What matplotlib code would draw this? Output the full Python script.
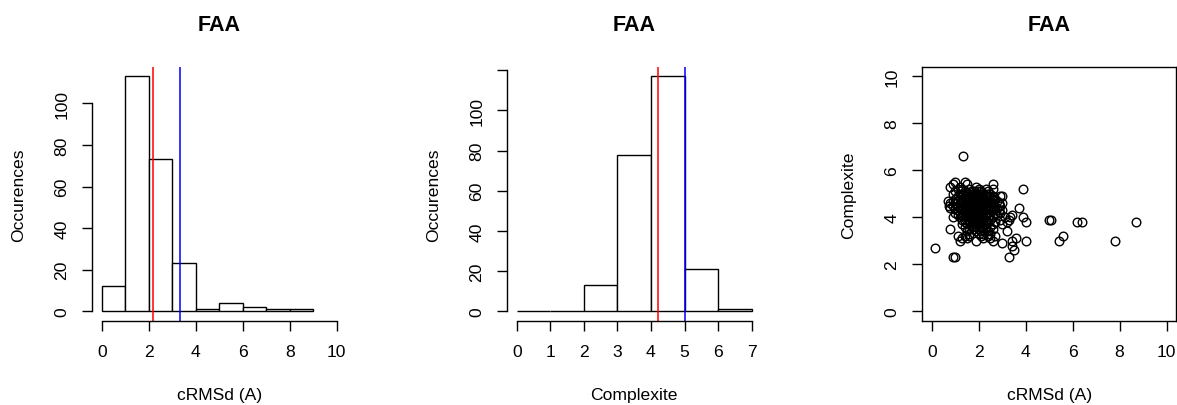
import matplotlib
matplotlib.use("Agg")
import matplotlib.pyplot as plt

plt.rcParams['font.family'] = ['Liberation Sans', 'DejaVu Sans']

# histogram of cRMSd
rmsd_edges = [0, 1, 2, 3, 4, 5, 6, 7, 8, 9]
rmsd_counts = [12, 113, 73, 23, 1, 4, 2, 1, 1]
rmsd_red = 2.17
rmsd_blue = 3.33

# histogram of complexite
cplx_edges = [0, 1, 2, 3, 4, 5, 6, 7]
cplx_counts = [0, 0, 13, 78, 117, 21, 1]
cplx_red = 4.22
cplx_blue = 5.0

# scatter: complexite levels and the cRMSd values observed at each level
scatter_levels = [6.6, 5.5, 5.4, 5.3, 5.2, 5.1, 5.0, 4.9, 4.8, 4.7, 4.6, 4.5, 4.4,
                  4.3, 4.2, 4.1, 4.0, 3.9, 3.8, 3.7, 3.6, 3.5, 3.4, 3.3, 3.2,
                  3.1, 3.0, 2.9, 2.8, 2.7, 2.6, 2.3]
scatter_rows = [
    [1.35],
    [1.0, 1.4],
    [0.9, 1.5, 2.6],
    [0.8, 1.2, 1.9],
    [1.1, 1.3, 1.6, 2.0, 2.3, 2.6, 3.9],
    [1.0, 1.4, 1.7, 1.8, 2.1, 2.4, 1.25, 1.95],
    [0.9, 1.2, 1.5, 1.6, 1.9, 2.0, 2.2, 2.5, 1.35, 1.75, 2.35],
    [1.1, 1.3, 1.4, 1.7, 1.8, 2.1, 2.3, 2.6, 2.9, 3.0, 1.55, 1.95, 2.45],
    [1.0, 1.2, 1.5, 1.6, 1.9, 2.0, 2.2, 2.4, 2.7, 1.35, 1.75, 2.15, 2.55],
    [0.7, 0.9, 1.1, 1.3, 1.4, 1.7, 1.8, 2.0, 2.1, 2.3, 2.5, 2.8, 1.55, 1.95, 2.25],
    [0.8, 1.0, 1.2, 1.5, 1.6, 1.8, 1.9, 2.2, 2.4, 2.6, 3.0, 1.35, 1.75, 2.05, 2.85],
    [0.75, 0.9, 1.1, 1.3, 1.4, 1.7, 1.8, 2.0, 2.1, 2.3, 2.7, 2.9, 1.55, 1.95, 2.45],
    [0.8, 1.0, 1.2, 1.5, 1.6, 1.9, 2.0, 2.2, 2.4, 2.5, 2.8, 3.7, 1.35, 1.75, 2.15],
    [1.1, 1.3, 1.4, 1.7, 1.8, 2.1, 2.3, 2.6, 3.0, 1.55, 1.95, 2.45, 2.85],
    [1.0, 1.2, 1.5, 1.6, 1.9, 2.0, 2.2, 2.4, 2.7, 2.9, 1.35, 1.75, 2.05],
    [1.1, 1.3, 1.4, 1.7, 1.8, 2.1, 2.3, 2.5, 2.8, 3.4, 1.55, 1.95, 2.25],
    [0.9, 1.2, 1.5, 1.6, 1.9, 2.0, 2.2, 2.4, 2.6, 3.1, 3.9, 1.75, 2.15, 3.35],
    [1.3, 1.4, 1.7, 1.8, 2.1, 2.3, 2.5, 2.9, 3.3, 5.0, 5.1, 1.95, 2.15],
    [1.4, 1.6, 1.9, 2.0, 2.2, 2.4, 2.7, 3.2, 4.0, 6.2, 6.4, 8.7, 1.75, 2.05],
    [1.3, 1.5, 1.8, 2.1, 2.3, 2.6, 3.0, 1.95],
    [1.4, 1.7, 1.9, 2.2, 2.5, 2.05],
    [0.8, 1.6, 1.8, 2.0, 2.3, 2.6],
    [1.5, 1.9, 2.1, 2.4, 3.2],
    [1.6, 2.0, 2.2, 2.5],
    [1.1, 1.4, 1.6, 2.1, 2.4, 2.7, 5.6],
    [1.3, 1.5, 2.2, 2.5, 3.6],
    [1.2, 1.9, 2.6, 3.4, 4.0, 5.4, 7.8],
    [3.0],
    [3.4],
    [0.15],
    [3.5],
    [0.9, 1.0, 3.3],
]

sx, sy = [], []
for level, row in zip(scatter_levels, scatter_rows):
    for v in row:
        sx.append(v)
        sy.append(level)

FS = 12.6
TFS = 15.5
LW = 1.0

fig = plt.figure(figsize=(11.77, 4.06), dpi=100)
W, H = 1177, 406


def make_axes(left_px, right_px):
    top_px, bottom_px = 67.9, 321.7
    return fig.add_axes([left_px / W, (H - bottom_px) / H,
                         (right_px - left_px) / W, (bottom_px - top_px) / H])


def r_style(ax, xticks, yticks, ylabels=None, box=False):
    ax.set_xticks(xticks)
    ax.set_yticks(yticks)
    if ylabels is None:
        ylabels = [str(t) for t in yticks]
    ax.set_yticklabels(ylabels, rotation=90, va='center')
    ax.set_xticklabels([str(t) for t in xticks])
    ax.tick_params(direction='out', length=7, width=LW, labelsize=FS, pad=9.5)
    for s in ax.spines.values():
        s.set_linewidth(LW)
    if not box:
        ax.spines['top'].set_visible(False)
        ax.spines['right'].set_visible(False)
        ax.spines['bottom'].set_bounds(xticks[0], xticks[-1])
        ax.spines['left'].set_bounds(yticks[0], yticks[-1])


def labels(ax, xlabel, ylabel):
    ax.set_xlabel(xlabel, fontsize=FS)
    ax.set_ylabel(ylabel, fontsize=FS)
    ax.xaxis.set_label_coords(0.5, -0.289)
    ax.yaxis.set_label_coords(-0.289, 0.5)
    ax.xaxis.label.set_va('center')
    ax.yaxis.label.set_va('center')
    ax.text(0.5, 1.166, 'FAA', transform=ax.transAxes, ha='center',
            va='center', fontsize=TFS, fontweight='bold')


# panel 1
ax1 = make_axes(92.3, 346.1)
ax1.bar(rmsd_edges[:-1], rmsd_counts, width=1, align='edge',
        facecolor='white', edgecolor='black', linewidth=LW)
ax1.axvline(rmsd_red, color='red', lw=1.1)
ax1.axvline(rmsd_blue, color='blue', lw=1.1)
ax1.set_xlim(-0.4, 10.4)
ax1.set_ylim(-0.04 * 113, 113 * 1.04)
r_style(ax1, [0, 2, 4, 6, 8, 10], [0, 20, 40, 60, 80, 100])
labels(ax1, 'cRMSd (A)', 'Occurences')

# panel 2
ax2 = make_axes(507.3, 761.1)
ax2.bar(cplx_edges[:-1], cplx_counts, width=1, align='edge',
        facecolor='white', edgecolor='black', linewidth=LW)
ax2.axvline(cplx_red, color='red', lw=1.1)
ax2.axvline(cplx_blue, color='blue', lw=1.1)
ax2.set_xlim(-0.28, 7.28)
ax2.set_ylim(-0.04 * 117, 117 * 1.04)
r_style(ax2, [0, 1, 2, 3, 4, 5, 6, 7], [0, 20, 40, 60, 80, 100, 120],
        ['0', '20', '40', '60', '80', '100', ''])
labels(ax2, 'Complexite', 'Occurences')

# panel 3
ax3 = make_axes(922.3, 1176.0)
ax3.plot(sx, sy, 'o', mfc='none', mec='black', ms=6.2, mew=1.0)
ax3.set_xlim(-0.4, 10.4)
ax3.set_ylim(-0.4, 10.4)
r_style(ax3, [0, 2, 4, 6, 8, 10], [0, 2, 4, 6, 8, 10], box=True)
labels(ax3, 'cRMSd (A)', 'Complexite')

fig.savefig('out.png', dpi=100)
